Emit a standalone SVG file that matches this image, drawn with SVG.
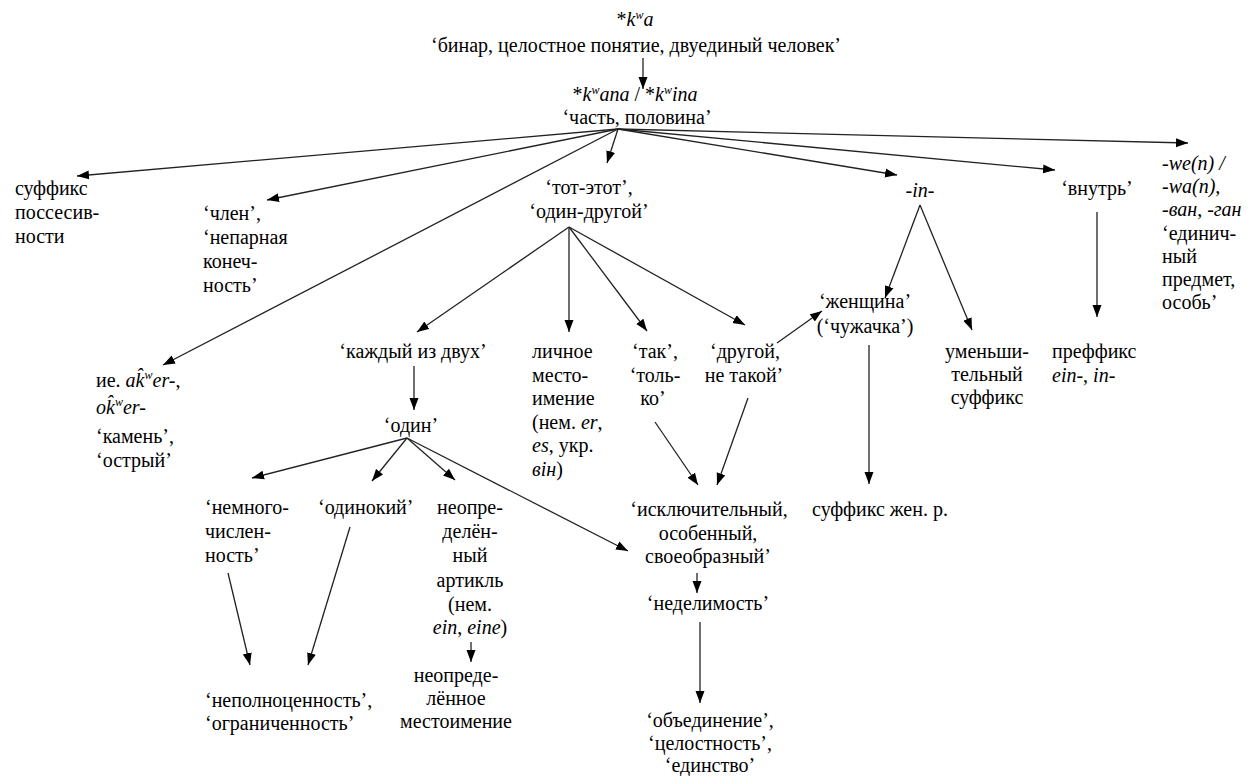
<svg xmlns="http://www.w3.org/2000/svg" width="1252" height="776" viewBox="0 0 1252 776">
<style>
.m{text-anchor:middle}
.i{font-style:italic}
.sup{font-size:12px;font-style:italic}
.c{stroke:#222;stroke-width:1.3;fill:none;marker-end:url(#ah)}
</style>
<defs>
<marker id="ah" markerUnits="userSpaceOnUse" markerWidth="13" markerHeight="10" refX="12" refY="5" orient="auto">
<path d="M0,0.5 L12,5 L0,9.5 z" fill="#000"/>
</marker>
</defs>
<rect width="1252" height="776" fill="#fff"/>

<g id="connectors">
<line class="c" x1="643" y1="58" x2="643" y2="89"/>
<line class="c" x1="618" y1="129" x2="77" y2="176"/>
<line class="c" x1="618" y1="129" x2="267" y2="200"/>
<line class="c" x1="618" y1="129" x2="163" y2="365"/>
<line class="c" x1="618" y1="129" x2="607" y2="163"/>
<line class="c" x1="618" y1="129" x2="897" y2="175"/>
<line class="c" x1="618" y1="129" x2="1055" y2="170"/>
<line class="c" x1="618" y1="129" x2="1188" y2="143"/>
<line class="c" x1="569" y1="227" x2="417" y2="332"/>
<line class="c" x1="569" y1="227" x2="569" y2="332"/>
<line class="c" x1="569" y1="227" x2="647" y2="331"/>
<line class="c" x1="569" y1="227" x2="745" y2="325"/>
<line class="c" x1="414" y1="366" x2="414" y2="410"/>
<line class="c" x1="407" y1="438" x2="252" y2="478"/>
<line class="c" x1="407" y1="438" x2="372" y2="481"/>
<line class="c" x1="407" y1="438" x2="455" y2="480"/>
<line class="c" x1="407" y1="438" x2="628" y2="551"/>
<line class="c" x1="228" y1="573" x2="250" y2="665"/>
<line class="c" x1="350" y1="527" x2="308" y2="665"/>
<line class="c" x1="471" y1="642" x2="471" y2="662"/>
<line class="c" x1="655" y1="422" x2="698" y2="485"/>
<line class="c" x1="748" y1="398" x2="717" y2="485"/>
<line class="c" x1="777" y1="343" x2="822" y2="311"/>
<line class="c" x1="697" y1="573" x2="697" y2="593"/>
<line class="c" x1="700" y1="622" x2="700" y2="703"/>
<line class="c" x1="920" y1="205" x2="885" y2="298"/>
<line class="c" x1="920" y1="205" x2="972" y2="330"/>
<line class="c" x1="869" y1="345" x2="869" y2="484"/>
<line class="c" x1="1097" y1="212" x2="1097" y2="317"/>
</g>

<g id="n-root">
<text style="font-family:'Liberation Serif',serif;font-size:20px" class="m" x="635" y="26">*<tspan class="i">k</tspan><tspan class="sup" dy="-7">w</tspan><tspan class="i" dy="7">a</tspan></text>
<text style="font-family:'Liberation Serif',serif;font-size:20px" class="m" x="636" y="52">‘бинар, целостное понятие, двуединый человек’</text>
</g>
<g id="n-kwana">
<text style="font-family:'Liberation Serif',serif;font-size:20px" class="m" x="635" y="101">*<tspan class="i">k</tspan><tspan class="sup" dy="-7">w</tspan><tspan class="i" dy="7">ana</tspan> / *<tspan class="i">k</tspan><tspan class="sup" dy="-7">w</tspan><tspan class="i" dy="7">ina</tspan></text>
<text style="font-family:'Liberation Serif',serif;font-size:20px" class="m" x="637" y="124">‘часть, половина’</text>
</g>
<g id="n-suffix-poss">
<text style="font-family:'Liberation Serif',serif;font-size:20px" x="15" y="195">суффикс</text>
<text style="font-family:'Liberation Serif',serif;font-size:20px" x="15" y="219">поссесив-</text>
<text style="font-family:'Liberation Serif',serif;font-size:20px" x="15" y="243">ности</text>
</g>
<g id="n-chlen">
<text style="font-family:'Liberation Serif',serif;font-size:20px" x="203" y="220">‘член’,</text>
<text style="font-family:'Liberation Serif',serif;font-size:20px" x="203" y="244">‘непарная</text>
<text style="font-family:'Liberation Serif',serif;font-size:20px" x="203" y="268">конеч-</text>
<text style="font-family:'Liberation Serif',serif;font-size:20px" x="203" y="292">ность’</text>
</g>
<g id="n-akwer">
<text style="font-family:'Liberation Serif',serif;font-size:20px" x="96" y="387">ие. <tspan class="i">ak̂</tspan><tspan class="sup" dy="-8">w</tspan><tspan class="i" dy="8">er-</tspan>,</text>
<text style="font-family:'Liberation Serif',serif;font-size:20px" x="96" y="414"><tspan class="i">ok̂</tspan><tspan class="sup" dy="-8">w</tspan><tspan class="i" dy="8">er-</tspan></text>
<text style="font-family:'Liberation Serif',serif;font-size:20px" x="96" y="443">‘камень’,</text>
<text style="font-family:'Liberation Serif',serif;font-size:20px" x="96" y="467">‘острый’</text>
</g>
<g id="n-tot-etot">
<text style="font-family:'Liberation Serif',serif;font-size:20px" class="m" x="589" y="194">‘тот-этот’,</text>
<text style="font-family:'Liberation Serif',serif;font-size:20px" class="m" x="589" y="218">‘один-другой’</text>
</g>
<g id="n-in">
<text style="font-family:'Liberation Serif',serif;font-size:20px" class="m i" x="920" y="197">-in-</text>
</g>
<g id="n-vnutr">
<text style="font-family:'Liberation Serif',serif;font-size:20px" class="m" x="1097" y="195">‘внутрь’</text>
</g>
<g id="n-wen">
<text style="font-family:'Liberation Serif',serif;font-size:20px" class="i" x="1162" y="170">-we(n) /</text>
<text style="font-family:'Liberation Serif',serif;font-size:20px" class="i" x="1162" y="193">-wa(n),</text>
<text style="font-family:'Liberation Serif',serif;font-size:20px" x="1162" y="216"><tspan class="i">-ван</tspan>, <tspan class="i">-ган</tspan></text>
<text style="font-family:'Liberation Serif',serif;font-size:20px" x="1162" y="240">‘единич-</text>
<text style="font-family:'Liberation Serif',serif;font-size:20px" x="1162" y="263">ный</text>
<text style="font-family:'Liberation Serif',serif;font-size:20px" x="1162" y="286">предмет,</text>
<text style="font-family:'Liberation Serif',serif;font-size:20px" x="1162" y="309">особь’</text>
</g>
<g id="n-kazhdyj">
<text style="font-family:'Liberation Serif',serif;font-size:20px" class="m" x="413" y="358">‘каждый из двух’</text>
</g>
<g id="n-lichnoe">
<text style="font-family:'Liberation Serif',serif;font-size:20px" x="532" y="358">личное</text>
<text style="font-family:'Liberation Serif',serif;font-size:20px" x="532" y="382">место-</text>
<text style="font-family:'Liberation Serif',serif;font-size:20px" x="532" y="405">имение</text>
<text style="font-family:'Liberation Serif',serif;font-size:20px" x="532" y="429">(нем. <tspan class="i">er</tspan>,</text>
<text style="font-family:'Liberation Serif',serif;font-size:20px" x="532" y="452"><tspan class="i">es</tspan>, укр.</text>
<text style="font-family:'Liberation Serif',serif;font-size:20px" x="532" y="476"><tspan class="i">він</tspan>)</text>
</g>
<g id="n-tak">
<text style="font-family:'Liberation Serif',serif;font-size:20px" class="m" x="655" y="358">‘так’,</text>
<text style="font-family:'Liberation Serif',serif;font-size:20px" class="m" x="655" y="382">‘толь-</text>
<text style="font-family:'Liberation Serif',serif;font-size:20px" class="m" x="653" y="405">ко’</text>
</g>
<g id="n-drugoj">
<text style="font-family:'Liberation Serif',serif;font-size:20px" class="m" x="745" y="358">‘другой,</text>
<text style="font-family:'Liberation Serif',serif;font-size:20px" class="m" x="744" y="382">не такой’</text>
</g>
<g id="n-zhenshchina">
<text style="font-family:'Liberation Serif',serif;font-size:20px" class="m" x="865" y="308">‘женщина’</text>
<text style="font-family:'Liberation Serif',serif;font-size:20px" class="m" x="865" y="333">(‘чужачка’)</text>
</g>
<g id="n-umensh">
<text style="font-family:'Liberation Serif',serif;font-size:20px" class="m" x="987" y="358">уменьши-</text>
<text style="font-family:'Liberation Serif',serif;font-size:20px" class="m" x="987" y="381">тельный</text>
<text style="font-family:'Liberation Serif',serif;font-size:20px" class="m" x="987" y="404">суффикс</text>
</g>
<g id="n-preffix">
<text style="font-family:'Liberation Serif',serif;font-size:20px" x="1052" y="358">преффикс</text>
<text style="font-family:'Liberation Serif',serif;font-size:20px" x="1052" y="382"><tspan class="i">ein-</tspan>, <tspan class="i">in-</tspan></text>
</g>
<g id="n-odin">
<text style="font-family:'Liberation Serif',serif;font-size:20px" class="m" x="411" y="432">‘один’</text>
</g>
<g id="n-nemnogo">
<text style="font-family:'Liberation Serif',serif;font-size:20px" x="205" y="514">‘немного-</text>
<text style="font-family:'Liberation Serif',serif;font-size:20px" x="205" y="538">числен-</text>
<text style="font-family:'Liberation Serif',serif;font-size:20px" x="205" y="562">ность’</text>
</g>
<g id="n-odinokij">
<text style="font-family:'Liberation Serif',serif;font-size:20px" x="318" y="514">‘одинокий’</text>
</g>
<g id="n-artikl">
<text style="font-family:'Liberation Serif',serif;font-size:20px" class="m" x="470" y="514">неопре-</text>
<text style="font-family:'Liberation Serif',serif;font-size:20px" class="m" x="470" y="538">делён-</text>
<text style="font-family:'Liberation Serif',serif;font-size:20px" class="m" x="470" y="562">ный</text>
<text style="font-family:'Liberation Serif',serif;font-size:20px" class="m" x="470" y="587">артикль</text>
<text style="font-family:'Liberation Serif',serif;font-size:20px" class="m" x="470" y="611">(нем.</text>
<text style="font-family:'Liberation Serif',serif;font-size:20px" class="m" x="470" y="634"><tspan class="i">ein</tspan>, <tspan class="i">eine</tspan>)</text>
</g>
<g id="n-neopr-mest">
<text style="font-family:'Liberation Serif',serif;font-size:20px" class="m" x="456" y="682">неопреде-</text>
<text style="font-family:'Liberation Serif',serif;font-size:20px" class="m" x="456" y="705">лённое</text>
<text style="font-family:'Liberation Serif',serif;font-size:20px" class="m" x="456" y="728">местоимение</text>
</g>
<g id="n-nepolno">
<text style="font-family:'Liberation Serif',serif;font-size:20px" x="205" y="707">‘неполноценность’,</text>
<text style="font-family:'Liberation Serif',serif;font-size:20px" x="205" y="730">‘ограниченность’</text>
</g>
<g id="n-iskl">
<text style="font-family:'Liberation Serif',serif;font-size:20px" class="m" x="709" y="516">‘исключительный,</text>
<text style="font-family:'Liberation Serif',serif;font-size:20px" class="m" x="708" y="540">особенный,</text>
<text style="font-family:'Liberation Serif',serif;font-size:20px" class="m" x="708" y="563">своеобразный’</text>
</g>
<g id="n-suff-zhen">
<text style="font-family:'Liberation Serif',serif;font-size:20px" class="m" x="880" y="516">суффикс жен. р.</text>
</g>
<g id="n-nedelim">
<text style="font-family:'Liberation Serif',serif;font-size:20px" class="m" x="708" y="610">‘неделимость’</text>
</g>
<g id="n-obyed">
<text style="font-family:'Liberation Serif',serif;font-size:20px" class="m" x="710" y="727">‘объединение’,</text>
<text style="font-family:'Liberation Serif',serif;font-size:20px" class="m" x="710" y="750">‘целостность’,</text>
<text style="font-family:'Liberation Serif',serif;font-size:20px" class="m" x="710" y="772">‘единство’</text>
</g>
</svg>
